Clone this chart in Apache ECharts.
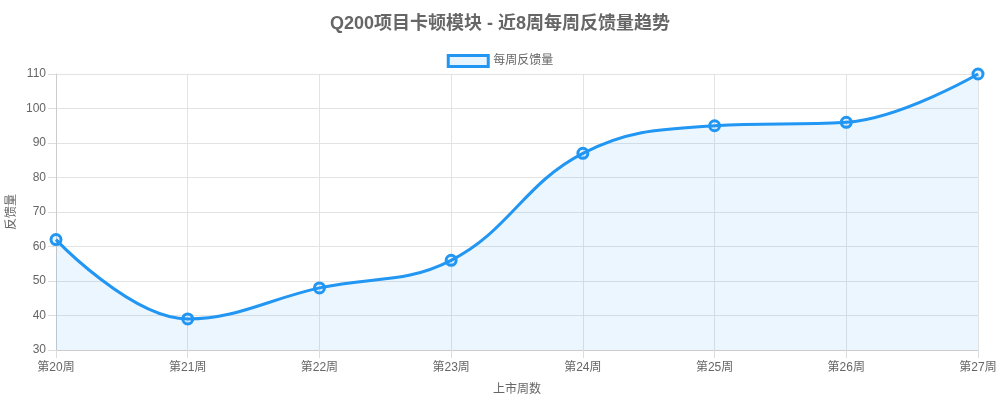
<!DOCTYPE html>
<html><head><meta charset="utf-8">
<script src="https://cdn.jsdelivr.net/npm/echarts@6/dist/echarts.min.js"></script>
<style>html,body{margin:0;padding:0;background:#fff}#c{width:1000px;height:401px}</style>
</head><body><div id="c"></div>
<script>
const titleText = 'Q200项目卡顿模块 - 近8周每周反馈量趋势';
const categories = ['第20周','第21周','第22周','第23周','第24周','第25周','第26周','第27周'];
const seriesName = '每周反馈量';
const values = [62, 39, 48, 56, 87, 95, 96, 110];
const xName = '上市周数';
const yName = '反馈量';

const font = '"Liberation Sans", Arial, "Noto Sans CJK SC", sans-serif';
const blue = '#2196f3';
const chart = echarts.init(document.getElementById('c'));
chart.setOption({
  animation: false,
  textStyle: { fontFamily: font },
  title: { text: titleText, left: 'center', top: 10,
    textStyle: { fontSize: 18, fontWeight: 'bold', color: '#666', fontFamily: font } },
  legend: { top: 49, left: 'center', itemWidth: 40, itemHeight: 11, itemGap: 10,
    data: [{ name: seriesName, icon: 'rect',
      itemStyle: { color: 'rgba(33,150,243,0.1)', borderColor: blue, borderWidth: 3 } }],
    textStyle: { fontSize: 12, color: '#666', fontFamily: font } },
  grid: { left: 56, right: 22, top: 74, bottom: 51, containLabel: false, outerBoundsMode: 'none' },
  xAxis: { type: 'category', data: categories, boundaryGap: false,
    name: xName, nameLocation: 'middle', nameGap: 34,
    nameTextStyle: { fontSize: 12, color: '#666' },
    axisLine: { lineStyle: { color: '#ccc' } },
    axisTick: { show: true, length: 8, lineStyle: { color: '#ddd' } },
    axisLabel: { color: '#666', fontSize: 12, margin: 12 },
    splitLine: { show: true, lineStyle: { color: '#e3e3e3' } } },
  yAxis: { type: 'value', min: 30, max: 110, interval: 10,
    name: yName, nameLocation: 'middle', nameGap: 38, nameMoveOverlap: false,
    nameTextStyle: { fontSize: 12, color: '#666' },
    axisLine: { show: true, lineStyle: { color: '#ccc' } },
    axisTick: { show: true, length: 8, lineStyle: { color: '#ddd' } },
    axisLabel: { color: '#666', fontSize: 12, margin: 10 },
    splitLine: { show: true, lineStyle: { color: '#e3e3e3' } } },
  series: [{ name: seriesName, type: 'line', data: values, smooth: 0.4,
    symbol: 'circle', symbolSize: 10,
    lineStyle: { color: blue, width: 3 },
    itemStyle: { color: 'rgba(33,150,243,0.1)', borderColor: blue, borderWidth: 3 },
    areaStyle: { color: 'rgba(33,150,243,0.12)' } }]
});
</script></body></html>
